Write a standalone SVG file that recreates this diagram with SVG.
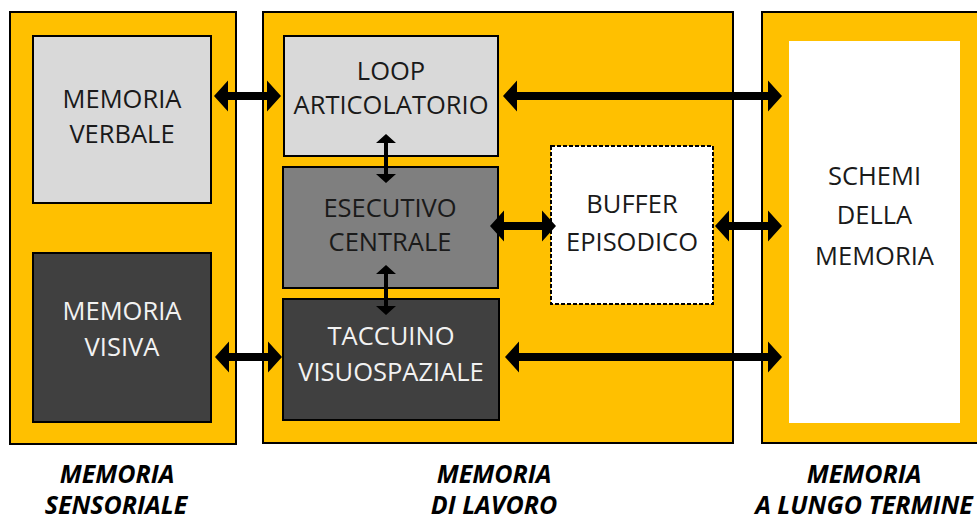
<svg xmlns="http://www.w3.org/2000/svg" width="977" height="523" viewBox="0 0 977 523">
  <style>
    .panel { fill: #ffc000; stroke: #000; stroke-width: 2; }
    .light { fill: #d9d9d9; stroke: #000; stroke-width: 2; }
    .mid { fill: #7f7f7f; stroke: #000; stroke-width: 2; }
    .dark { fill: #404040; stroke: #000; stroke-width: 2; }
    .buffer { fill: #fff; stroke: #000; stroke-width: 2; stroke-dasharray: 4 2; }
    .ltm { fill: #fff; }
    text { font-family: "Open Sans", "Liberation Sans", sans-serif; font-size: 25.5px; text-anchor: middle; }
    .t-dark { fill: #1a1a1a; }
    .t-light { fill: #f2f2f2; }
    .caption { font-weight: bold; font-style: italic; font-size: 25px; fill: #000; }
    .arrow { fill: #000; }
  </style>

  <!-- Outer containers -->
  <g id="panel-sensoriale">
    <rect class="panel" x="10" y="12" width="226" height="432"/>
  </g>
  <g id="panel-lavoro">
    <rect class="panel" x="263" y="12" width="470" height="431"/>
  </g>
  <g id="panel-lungo-termine">
    <rect class="panel" x="762" y="12" width="230" height="431"/>
  </g>

  <!-- Sensory memory -->
  <g id="memoria-verbale">
    <rect class="light" x="33" y="36" width="178" height="167"/>
    <text class="t-dark" x="122" y="108">MEMORIA</text>
    <text class="t-dark" x="122" y="143">VERBALE</text>
  </g>
  <g id="memoria-visiva">
    <rect class="dark" x="33" y="253" width="178" height="169"/>
    <text class="t-light" x="122" y="320">MEMORIA</text>
    <text class="t-light" x="122" y="356">VISIVA</text>
  </g>

  <!-- Working memory -->
  <g id="loop-articolatorio">
    <rect class="light" x="284" y="36" width="214" height="120"/>
    <text class="t-dark" x="391" y="80">LOOP</text>
    <text class="t-dark" x="391" y="114">ARTICOLATORIO</text>
  </g>
  <g id="esecutivo-centrale">
    <rect class="mid" x="283" y="167" width="215" height="121"/>
    <text class="t-dark" x="390" y="217">ESECUTIVO</text>
    <text class="t-dark" x="390" y="251">CENTRALE</text>
  </g>
  <g id="taccuino-visuospaziale">
    <rect class="dark" x="283" y="299" width="216" height="121"/>
    <text class="t-light" x="391" y="345">TACCUINO</text>
    <text class="t-light" x="391" y="381">VISUOSPAZIALE</text>
  </g>
  <g id="buffer-episodico">
    <rect class="buffer" x="551" y="146" width="162" height="158"/>
    <text class="t-dark" x="632" y="213">BUFFER</text>
    <text class="t-dark" x="632" y="251">EPISODICO</text>
  </g>

  <!-- Long-term memory -->
  <g id="schemi-della-memoria">
    <rect class="ltm" x="789" y="41" width="171" height="382"/>
    <text class="t-dark" x="874.5" y="185">SCHEMI</text>
    <text class="t-dark" x="874.5" y="224">DELLA</text>
    <text class="t-dark" x="874.5" y="265">MEMORIA</text>
  </g>

  <!-- Double-headed connectors -->
  <g id="connectors">
    <!-- verbale <-> loop -->
    <polygon class="arrow" points="214,96 228,80.5 228,92 267,92 267,80.5 281,96 267,111.5 267,100 228,100 228,111.5"/>
    <!-- loop <-> schemi -->
    <polygon class="arrow" points="503,96 517,80.5 517,92 768,92 768,80.5 782,96 768,111.5 768,100 517,100 517,111.5"/>
    <!-- esecutivo <-> buffer -->
    <polygon class="arrow" points="490,226 504,210.5 504,222 542,222 542,210.5 556,226 542,241.5 542,230 504,230 504,241.5"/>
    <!-- buffer <-> schemi -->
    <polygon class="arrow" points="715,226 729,210.5 729,222 768,222 768,210.5 782,226 768,241.5 768,230 729,230 729,241.5"/>
    <!-- visiva <-> taccuino -->
    <polygon class="arrow" points="215,357 229,341.5 229,353 268,353 268,341.5 282,357 268,372.5 268,361 229,361 229,372.5"/>
    <!-- taccuino <-> schemi -->
    <polygon class="arrow" points="505,357 519,341.5 519,353 768,353 768,341.5 782,357 768,372.5 768,361 519,361 519,372.5"/>
    <!-- loop <-> esecutivo -->
    <polygon class="arrow" points="386,134 396,143 388,143 388,174 396,174 386,183 376,174 384,174 384,143 376,143"/>
    <!-- esecutivo <-> taccuino -->
    <polygon class="arrow" points="386,265 396,274 388,274 388,306 396,306 386,315 376,306 384,306 384,274 376,274"/>
  </g>

  <!-- Captions -->
  <g id="captions">
    <text class="caption" x="117" y="483">MEMORIA</text>
    <text class="caption" x="116" y="514">SENSORIALE</text>
    <text class="caption" x="494" y="483">MEMORIA</text>
    <text class="caption" x="494" y="514">DI LAVORO</text>
    <text class="caption" x="864" y="483">MEMORIA</text>
    <text class="caption" x="864" y="514">A LUNGO TERMINE</text>
  </g>
</svg>
